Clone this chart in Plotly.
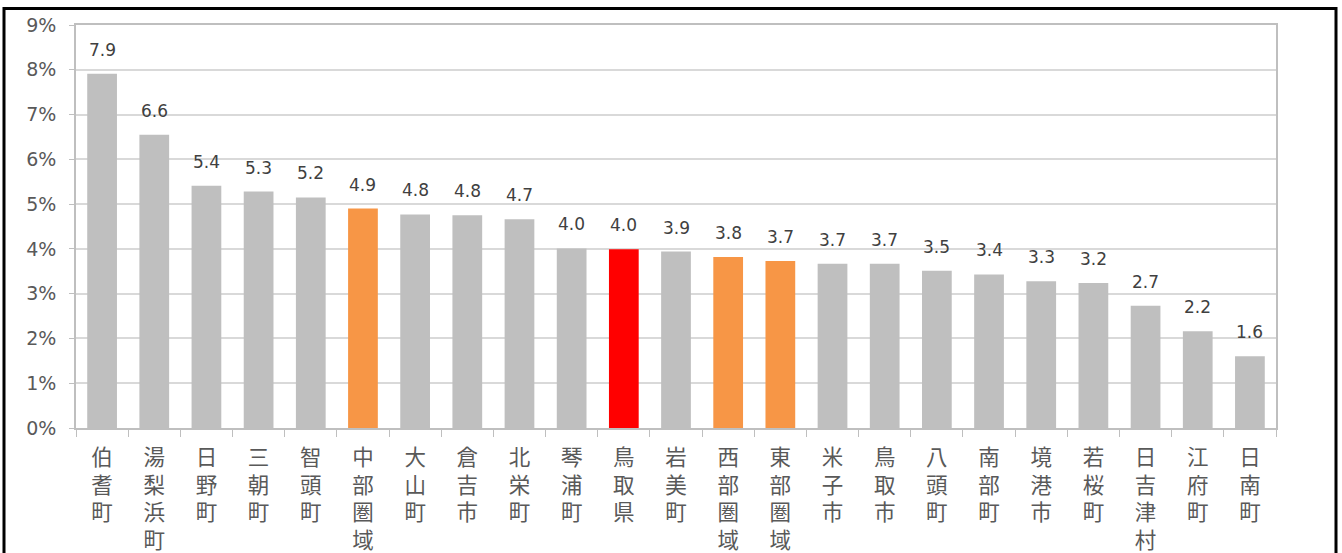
import plotly.graph_objects as go

# ---- data ----
categories = ["伯耆町", "湯梨浜町", "日野町", "三朝町", "智頭町", "中部圏域", "大山町", "倉吉市",
              "北栄町", "琴浦町", "鳥取県", "岩美町", "西部圏域", "東部圏域", "米子市", "鳥取市",
              "八頭町", "南部町", "境港市", "若桜町", "日吉津村", "江府町", "日南町"]
values_pct = [7.91, 6.55, 5.41, 5.28, 5.15, 4.90, 4.77, 4.75, 4.66, 4.01, 3.99, 3.94,
              3.82, 3.73, 3.67, 3.67, 3.51, 3.43, 3.28, 3.24, 2.73, 2.16, 1.60]
value_labels = ["7.9", "6.6", "5.4", "5.3", "5.2", "4.9", "4.8", "4.8", "4.7", "4.0", "4.0", "3.9",
                "3.8", "3.7", "3.7", "3.7", "3.5", "3.4", "3.3", "3.2", "2.7", "2.2", "1.6"]
regions = ["中部圏域", "西部圏域", "東部圏域"]
prefecture = "鳥取県"

# ---- styles ----
GRAY = "#bfbfbf"
ORANGE = "#f79646"
RED = "#ff0000"
colors = [RED if c == prefecture else ORANGE if c in regions else GRAY for c in categories]

W, H = 1342, 553
ML, MR, MT, MB = 76, 66, 25, 125

FONT = "DejaVu Sans, Verdana, Noto Sans CJK JP, sans-serif"
CJK = "Noto Sans CJK JP, sans-serif"

fig = go.Figure()
fig.add_trace(go.Bar(
    x=categories,
    y=[v / 100 for v in values_pct],
    marker=dict(color=colors, line=dict(width=0)),
    width=0.57,
    hoverinfo="skip",
))

for c, v, lab in zip(categories, values_pct, value_labels):
    fig.add_annotation(x=c, y=v / 100, text=lab, showarrow=False,
                       yanchor="middle", yshift=24,
                       font=dict(family=FONT, size=17, color="#404040"))

# outer frame (pixel -> paper conversion)
pw, ph = W - ML - MR, H - MT - MB
def px_x(x):
    return (x - ML) / pw
def px_y(y):
    return (H - MB - y) / ph

fig.add_shape(type="rect", xref="paper", yref="paper",
              x0=px_x(4), x1=px_x(1336), y0=px_y(575), y1=px_y(8.5),
              line=dict(color="#000000", width=3), fillcolor="rgba(0,0,0,0)", layer="above")

fig.update_layout(
    width=W, height=H,
    margin=dict(l=ML, r=MR, t=MT, b=MB, pad=0, autoexpand=False),
    paper_bgcolor="white", plot_bgcolor="white",
    showlegend=False,
    font=dict(family=FONT, color="#595959"),
)
fig.update_yaxes(
    range=[0, 0.09], dtick=0.01, tickformat=".0%",
    showgrid=True, gridcolor="#d9d9d9", gridwidth=1.5,
    showline=True, linecolor="#bfbfbf", linewidth=1.5, mirror=True,
    ticks="outside", ticklen=5, tickcolor="#bfbfbf",
    tickfont=dict(family=FONT, size=19, color="#595959"),
    ticklabelstandoff=9,
    zeroline=False, automargin=False,
)
fig.update_xaxes(
    tickmode="array", tickvals=categories,
    ticktext=["<br>".join(list(c)) for c in categories],
    tickangle=0,
    showline=True, linecolor="#bfbfbf", linewidth=1.5, mirror=True,
    ticks="outside", ticklen=7, tickcolor="#bfbfbf", tickson="boundaries",
    tickfont=dict(family=CJK, size=21.5, color="#595959"),
    ticklabelstandoff=9,
    showgrid=False, automargin=False,
)

post = ("document.documentElement.style.margin='0';"
        "document.documentElement.style.overflow='hidden';"
        "document.body.style.margin='0';"
        "document.body.style.overflow='hidden';")
fig.write_html("out.html", post_script=post, config={"displayModeBar": False})
